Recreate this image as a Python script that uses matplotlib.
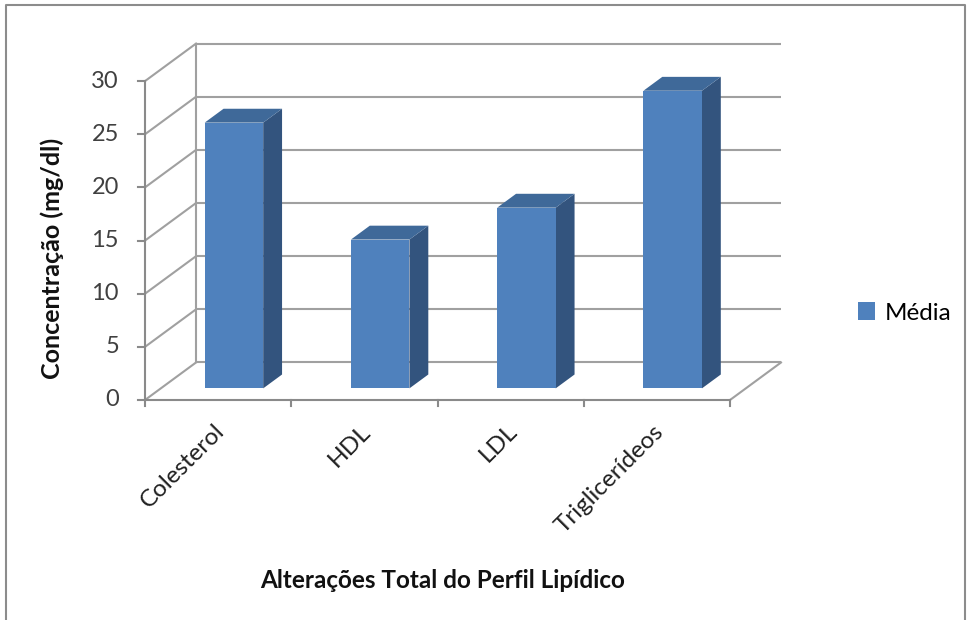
import matplotlib
matplotlib.use("Agg")
import matplotlib.pyplot as plt
from matplotlib.patches import Polygon, Patch
from matplotlib.lines import Line2D

# Data
categorias = ["Colesterol", "HDL", "LDL", "Triglicerídeos"]
media = [25, 14, 17, 28]
y_ticks = [0, 5, 10, 15, 20, 25, 30]

plt.rcParams['font.family'] = ['Lato', 'DejaVu Sans']

W, H = 968, 620
fig = plt.figure(figsize=(W / 100, H / 100), dpi=100)
ax = fig.add_axes([0, 0, 1, 1])

# pixel layout of the plot box (front-left origin, category width, value scale)
ox, oy = 145, 400
cat_px = 146.25
val_px = 10.63
depth_dx, depth_dy = 51, 37.5

ax.set_xlim(-ox / cat_px, (W - ox) / cat_px)
ax.set_ylim((oy - H) / val_px, oy / val_px)
ax.axis("off")

# oblique offset for full depth, in data units
ddx = depth_dx / cat_px
ddy = depth_dy / val_px
n = len(categorias)
vmax = y_ticks[-1]


def proj(x, v, d):
    return (x + ddx * d, v + ddy * d)


grid_c = "#A0A0A0"
axis_c = "#8A8A8A"

# back wall gridlines and left wall diagonals
for t in y_ticks:
    xs, ys = zip(proj(0, t, 1), proj(n, t, 1))
    ax.plot(xs, ys, color=grid_c, lw=1.5, solid_capstyle="butt", zorder=1)
    xs, ys = zip(proj(0, t, 0), proj(0, t, 1))
    ax.plot(xs, ys, color=grid_c, lw=1.5, zorder=1)

# back edge of the left wall
xs, ys = zip(proj(0, 0, 1), proj(0, vmax, 1))
ax.plot(xs, ys, color=grid_c, lw=1.5, zorder=1)

# floor: front edge and right edge
ax.plot([0, n], [0, 0], color=axis_c, lw=1.5, zorder=2)
xs, ys = zip(proj(n, 0, 0), proj(n, 0, 1))
ax.plot(xs, ys, color=grid_c, lw=1.5, zorder=1)

# value axis with ticks
ax.plot([0, 0], [0, vmax], color=axis_c, lw=1.5, zorder=2)
tick_len_x = 7 / cat_px
for t in y_ticks:
    ax.plot([-tick_len_x, 0], [t, t], color=axis_c, lw=1.5, zorder=2)
    ax.text(-26 / cat_px, t, str(t), ha="right", va="center",
            fontsize=17, color="#404040")

# category ticks and labels
tick_len_y = 6 / val_px
for i in range(n + 1):
    ax.plot([i, i], [0, -tick_len_y], color=axis_c, lw=1.5, zorder=2)
for i, nome in enumerate(categorias):
    ax.text(i + 0.5 + 3 / cat_px, -28 / val_px, nome, rotation=45,
            rotation_mode="anchor", ha="right", va="center",
            fontsize=17.5, color="#202020")

# 3D columns
front_c = "#4F81BD"
top_c = "#3F6999"
side_c = "#33547E"
bw = 0.4
d0, d1 = 0.31, 0.68
for i, v in enumerate(media):
    x0 = i + 0.5 - bw / 2
    x1 = i + 0.5 + bw / 2
    side = [proj(x1, 0, d0), proj(x1, 0, d1), proj(x1, v, d1), proj(x1, v, d0)]
    top = [proj(x0, v, d0), proj(x1, v, d0), proj(x1, v, d1), proj(x0, v, d1)]
    front = [proj(x0, 0, d0), proj(x1, 0, d0), proj(x1, v, d0), proj(x0, v, d0)]
    ax.add_patch(Polygon(side, closed=True, facecolor=side_c, edgecolor="none", zorder=3))
    ax.add_patch(Polygon(top, closed=True, facecolor=top_c, edgecolor="none", zorder=3))
    ax.add_patch(Polygon(front, closed=True, facecolor=front_c, edgecolor="none", zorder=4))

# axis titles
fig.text(52 / W, 1 - 258 / H, "Concentração (mg/dl)", rotation=90,
         ha="center", va="center", fontsize=18, fontweight="bold", color="#111111")
fig.text(443 / W, 1 - 581 / H, "Alterações Total do Perfil Lipídico",
         ha="center", va="center", fontsize=17.5, fontweight="bold", color="#111111")

# legend
ax.legend(handles=[Patch(facecolor=front_c, edgecolor="none", label="Média")],
          loc="center left", bbox_to_anchor=(836 / W, 1 - 313 / H),
          bbox_transform=fig.transFigure, frameon=False, fontsize=17.5,
          handlelength=0.7, handleheight=0.7, handletextpad=0.4)

# chart border
border = [(6, H + 5), (6, 5), (965, 5), (965, H + 5)]
fig.add_artist(Line2D([p[0] / W for p in border], [1 - p[1] / H for p in border],
                      color="#8C8C8C", lw=1.5, transform=fig.transFigure))

fig.savefig("out.png", dpi=100, facecolor="white")
